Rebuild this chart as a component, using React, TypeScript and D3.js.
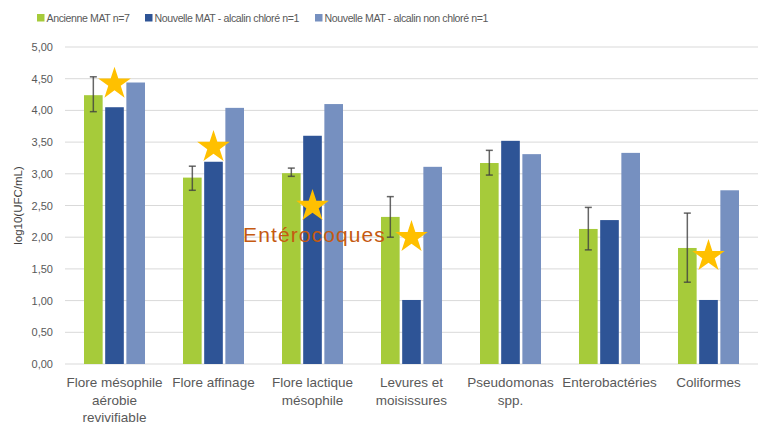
import React from 'react';
import * as d3 from 'd3';

const categories = [
  ['Flore mésophile', 'aérobie', 'revivifiable'],
  ['Flore affinage'],
  ['Flore lactique', 'mésophile'],
  ['Levures et', 'moisissures'],
  ['Pseudomonas', 'spp.'],
  ['Enterobactéries'],
  ['Coliformes'],
];
const seriesNames = ['Ancienne MAT n=7', 'Nouvelle MAT - alcalin chloré n=1', 'Nouvelle MAT - alcalin non chloré n=1'];
const seriesColors = ['#A6CB3A', '#2E5496', '#7690C0'];
const ancienne = [4.24, 2.94, 3.01, 2.32, 3.17, 2.13, 1.83];
const alcalinChlore = [4.05, 3.19, 3.6, 1.01, 3.52, 2.27, 1.01];
const alcalinNonChlore = [4.44, 4.04, 4.1, 3.11, 3.31, 3.33, 2.74];
const errHigh = [4.53, 3.12, 3.09, 2.64, 3.37, 2.47, 2.38];
const errLow = [3.98, 2.74, 2.96, 2.0, 2.98, 1.8, 1.29];
// stars drawn over some groups (category index, level)
const starCats = [0, 1, 2, 3, 6];
const starLevels = [4.42, 3.42, 2.49, 2.0, 1.7];
const yTicks = [0, 0.5, 1, 1.5, 2, 2.5, 3, 3.5, 4, 4.5, 5];
const noteLabel = 'Entérocoques';

const W = 763;
const H = 425;
const font = '"Liberation Sans", Arial, sans-serif';

export default function App() {
  const values = [ancienne, alcalinChlore, alcalinNonChlore];
  const margin = { left: 65, right: 5, top: 47, bottom: 61 };

  const x0 = d3.scaleBand<number>()
    .domain(d3.range(categories.length))
    .range([margin.left, W - margin.right])
    .paddingInner(0.384)
    .paddingOuter(0.192);
  const x1 = d3.scaleBand<number>()
    .domain(d3.range(3))
    .range([0, x0.bandwidth()])
    .paddingInner(0.12);
  const y = d3.scaleLinear().domain([0, 5]).range([H - margin.bottom, margin.top]);
  const fmt = (d: number) => d3.format('.2f')(d).replace('.', ',');
  const star = d3.symbol().type(d3.symbolStar).size(330);
  const cx = (i: number) => (x0(i) as number) + x0.bandwidth() / 2;

  const legendX = [37, 145, 315];

  return (
    <svg width={W} height={H} style={{ position: 'absolute', left: 0, top: 0, background: '#fff' }}>
      {/* legend */}
      {seriesNames.map((s, i) => (
        <g key={s} transform={`translate(${legendX[i]},18)`}>
          <rect x={0} y={-4} width={7.5} height={7.5} fill={seriesColors[i]} />
          <text x={9.5} y={4} fontFamily={font} fontSize={10.6} fill="#595959" letterSpacing={-0.4}>{s}</text>
        </g>
      ))}

      {/* grid */}
      {yTicks.map(t => (
        <g key={t}>
          <line x1={margin.left} x2={W - margin.right} y1={y(t)} y2={y(t)} stroke="#D9D9D9" strokeWidth={1} />
          <text x={53} y={y(t) + 4} textAnchor="end" fontFamily={font} fontSize={11} fill="#595959">{fmt(t)}</text>
        </g>
      ))}

      {/* y title */}
      <text transform={`translate(22,${(y(0) + y(5)) / 2}) rotate(-90)`} textAnchor="middle"
        fontFamily={font} fontSize={11.5} fill="#404040">log10(UFC/mL)</text>

      {/* bars */}
      {categories.map((c, ci) => (
        <g key={ci} transform={`translate(${x0(ci)},0)`}>
          {values.map((v, si) => (
            <rect key={si} x={x1(si)} y={y(v[ci])} width={x1.bandwidth()} height={y(0) - y(v[ci])} fill={seriesColors[si]} />
          ))}
        </g>
      ))}

      {/* error bars on Ancienne MAT */}
      {categories.map((c, ci) => {
        const ex = (x0(ci) as number) + (x1(0) as number) + x1.bandwidth() / 2;
        return (
          <g key={ci} stroke="#404040" strokeOpacity={0.8} strokeWidth={1.5}>
            <line x1={ex} x2={ex} y1={y(errHigh[ci])} y2={y(errLow[ci])} />
            <line x1={ex - 3.5} x2={ex + 3.5} y1={y(errHigh[ci])} y2={y(errHigh[ci])} />
            <line x1={ex - 3.5} x2={ex + 3.5} y1={y(errLow[ci])} y2={y(errLow[ci])} />
          </g>
        );
      })}

      {/* stars */}
      {starCats.map((ci, k) => (
        <path key={k} d={star() as string} transform={`translate(${cx(ci)},${y(starLevels[k])})`} fill="#FFC000" />
      ))}

      <text x={cx(2) + 2} y={y(1.93)} textAnchor="middle" fontFamily={font} fontSize={21} letterSpacing={1.1} fill="#C55A11">{noteLabel}</text>

      {/* x labels */}
      {categories.map((lines, ci) => (
        <text key={ci} textAnchor="middle" fontFamily={font} fontSize={13.5} fill="#595959">
          {lines.map((l, li) => (
            <tspan key={li} x={cx(ci)} y={387 + li * 17.5}>{l}</tspan>
          ))}
        </text>
      ))}
    </svg>
  );
}
